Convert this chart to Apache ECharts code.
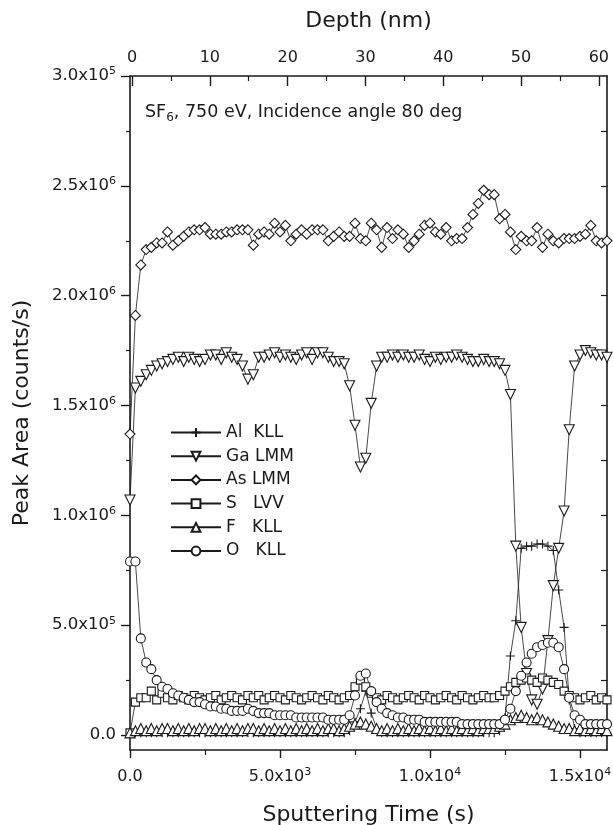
<!DOCTYPE html>
<html>
<head>
<meta charset="utf-8">
<title>SF6 depth profile</title>
<script src="https://cdn.jsdelivr.net/npm/echarts@6/dist/echarts.min.js"></script>
<style>
  html, body { margin: 0; padding: 0; background: #fff; }
  #main { width: 613px; height: 825px; }
</style>
</head>
<body>
<div id="main"></div>
<script type="text/javascript">
// sputtering time (s)
var timeS = [0,180,360,540,710,890,1070,1250,1430,1610,
  1790,1960,2140,2320,2500,2680,2860,3040,3210,3390,
  3570,3750,3930,4110,4290,4470,4640,4820,5000,5180,
  5360,5540,5720,5890,6070,6250,6430,6610,6790,6970,
  7140,7320,7500,7680,7860,8040,8220,8390,8570,8750,
  8930,9110,9290,9470,9640,9820,10000,10180,10360,10540,
  10720,10890,11070,11250,11430,11610,11790,11970,12140,12320,
  12500,12680,12860,13040,13220,13390,13570,13750,13930,14110,
  14290,14470,14640,14820,15000,15180,15360,15540,15720,15900];

// peak areas, in 10^6 counts/s
var alKLL = [0.01,0.01,0.01,0.01,0.01,0.01,0.01,0.01,0.01,0.01,
  0.01,0.01,0.01,0.01,0.01,0.01,0.01,0.01,0.01,0.01,
  0.01,0.01,0.01,0.01,0.01,0.01,0.01,0.01,0.01,0.01,
  0.01,0.01,0.01,0.01,0.01,0.01,0.01,0.01,0.01,0.01,
  0.01,0.02,0.06,0.12,0.20,0.10,0.03,0.01,0.01,0.01,
  0.01,0.01,0.01,0.01,0.01,0.01,0.01,0.01,0.01,0.01,
  0.01,0.01,0.01,0.01,0.01,0.01,0.01,0.01,0.01,0.02,
  0.08,0.36,0.52,0.85,0.86,0.86,0.87,0.87,0.86,0.84,
  0.66,0.49,0.16,0.03,0.01,0.01,0.01,0.01,0.01,0.01];
var gaLMM = [1.07,1.58,1.61,1.64,1.66,1.68,1.69,1.70,1.71,1.72,
  1.70,1.72,1.71,1.70,1.71,1.73,1.73,1.71,1.74,1.72,
  1.71,1.68,1.62,1.64,1.72,1.72,1.73,1.74,1.72,1.73,
  1.72,1.71,1.73,1.74,1.71,1.74,1.74,1.72,1.70,1.70,
  1.69,1.59,1.41,1.22,1.26,1.51,1.68,1.72,1.72,1.73,
  1.72,1.73,1.72,1.72,1.73,1.71,1.70,1.72,1.71,1.72,
  1.72,1.73,1.72,1.71,1.70,1.70,1.71,1.70,1.70,1.69,
  1.66,1.55,0.86,0.49,0.28,0.16,0.14,0.21,0.43,0.68,
  0.85,1.02,1.39,1.68,1.73,1.75,1.74,1.73,1.73,1.72];
var asLMM = [1.37,1.91,2.14,2.21,2.22,2.24,2.24,2.29,2.23,2.25,
  2.27,2.29,2.30,2.30,2.31,2.28,2.28,2.28,2.29,2.29,
  2.30,2.30,2.30,2.23,2.28,2.29,2.28,2.33,2.29,2.32,
  2.25,2.28,2.30,2.28,2.30,2.30,2.30,2.25,2.27,2.29,
  2.27,2.27,2.33,2.26,2.25,2.33,2.30,2.22,2.31,2.26,
  2.30,2.28,2.22,2.25,2.28,2.32,2.33,2.29,2.28,2.31,
  2.25,2.26,2.26,2.31,2.37,2.42,2.48,2.46,2.46,2.35,
  2.37,2.29,2.21,2.27,2.25,2.25,2.31,2.22,2.28,2.25,
  2.24,2.26,2.26,2.26,2.27,2.28,2.32,2.25,2.24,2.25];
var sLVV = [0.01,0.15,0.17,0.17,0.20,0.16,0.19,0.17,0.16,0.18,
  0.17,0.16,0.18,0.17,0.16,0.17,0.18,0.16,0.17,0.18,
  0.17,0.16,0.18,0.17,0.18,0.16,0.17,0.18,0.17,0.16,
  0.18,0.17,0.16,0.17,0.18,0.17,0.16,0.18,0.17,0.16,
  0.17,0.18,0.22,0.25,0.22,0.19,0.17,0.16,0.18,0.17,
  0.16,0.17,0.18,0.17,0.16,0.18,0.17,0.16,0.17,0.18,
  0.17,0.16,0.18,0.17,0.16,0.17,0.18,0.17,0.17,0.18,
  0.20,0.22,0.24,0.25,0.26,0.25,0.24,0.26,0.25,0.24,
  0.23,0.20,0.18,0.17,0.16,0.17,0.18,0.16,0.17,0.16];
var fKLL = [0.01,0.02,0.03,0.02,0.03,0.02,0.03,0.03,0.02,0.03,
  0.02,0.03,0.02,0.03,0.03,0.02,0.03,0.02,0.03,0.02,
  0.03,0.02,0.03,0.03,0.02,0.03,0.02,0.03,0.02,0.03,
  0.02,0.03,0.02,0.03,0.02,0.03,0.02,0.03,0.03,0.02,
  0.03,0.04,0.05,0.06,0.05,0.04,0.03,0.02,0.03,0.02,
  0.03,0.02,0.03,0.02,0.03,0.02,0.03,0.02,0.03,0.02,
  0.03,0.02,0.03,0.02,0.03,0.02,0.03,0.03,0.03,0.04,
  0.05,0.07,0.08,0.09,0.08,0.07,0.08,0.07,0.06,0.05,
  0.04,0.03,0.03,0.02,0.03,0.02,0.03,0.02,0.03,0.02];
var oKLL = [0.79,0.79,0.44,0.33,0.30,0.25,0.22,0.21,0.19,0.18,
  0.17,0.16,0.15,0.15,0.14,0.13,0.13,0.12,0.12,0.11,
  0.11,0.11,0.12,0.11,0.10,0.10,0.10,0.09,0.09,0.09,
  0.09,0.08,0.08,0.08,0.08,0.08,0.08,0.07,0.07,0.07,
  0.07,0.09,0.18,0.27,0.28,0.20,0.15,0.12,0.10,0.09,
  0.08,0.08,0.07,0.07,0.07,0.06,0.06,0.06,0.06,0.06,
  0.06,0.06,0.05,0.05,0.05,0.05,0.05,0.05,0.05,0.05,
  0.07,0.12,0.20,0.27,0.33,0.37,0.40,0.41,0.42,0.42,
  0.40,0.30,0.17,0.09,0.07,0.05,0.05,0.05,0.05,0.05];

var seriesNames = ['Al  KLL', 'Ga LMM', 'As LMM', 'S   LVV', 'F   KLL', 'O   KLL'];

// axis ticks
var yTickVals = [0, 0.5, 1.0, 1.5, 2.0, 2.5, 3.0];
var yTickLabels = ['0.0', '5.0x10{s|5}', '1.0x10{s|6}', '1.5x10{s|6}', '2.0x10{s|6}', '2.5x10{s|6}', '3.0x10{s|5}'];
var yMinorVals = [0.25, 0.75, 1.25, 1.75, 2.25, 2.75];
var yRightVals = [0.25, 0.5, 0.75, 1.0, 1.25, 1.5, 1.75, 2.0, 2.25, 2.5, 2.75];
var xTickVals = [0, 5000, 10000, 15000];
var xTickLabels = ['0.0', '5.0x10{s|3}', '1.0x10{s|4}', '1.5x10{s|4}'];
var xMinorVals = [2500, 7500, 12500];
var depthTickVals = [0, 10, 20, 30, 40, 50, 60];
var depthMinorVals = [5, 15, 25, 35, 45, 55];

var FONT = 'DejaVu Sans';
var INK = '#1a1a1a';

function pairs(ys) {
  var out = [];
  for (var i = 0; i < timeS.length; i++) out.push([timeS[i], ys[i]]);
  return out;
}

var symbols = [
  'path://M0,5L10,5M5,0L5,10',
  'path://M0,0L10,0L5,9Z',
  'diamond',
  'rect',
  'triangle',
  'circle'
];
var sizes = [9, 10, 10, 8, 10, 9];
var dataSets = [alKLL, gaLMM, asLMM, sLVV, fKLL, oKLL];

var seriesList = [];
for (var k = 0; k < dataSets.length; k++) {
  seriesList.push({
    name: seriesNames[k],
    type: 'line',
    xAxisIndex: 0,
    yAxisIndex: 0,
    data: pairs(dataSets[k]),
    symbol: symbols[k],
    symbolSize: sizes[k],
    showAllSymbol: true,
    clip: false,
    animation: false,
    lineStyle: { color: INK, width: 0.8 },
    itemStyle: { color: '#fff', borderColor: INK, borderWidth: 1.1 },
    emphasis: { disabled: true }
  });
}

var rich = { s: { fontFamily: FONT, fontSize: 11, lineHeight: 10, verticalAlign: 'top', color: INK } };
var frame = { show: true, onZero: false, lineStyle: { color: INK, width: 1.6 } };
var noLine = { show: false, onZero: false };
var titleFont = { fontFamily: FONT, fontSize: 22, color: INK };

var myChart = echarts.init(document.getElementById('main'), null, { renderer: 'canvas' });

var option = {
  backgroundColor: '#fff',
  animation: false,
  grid: { left: 130, right: 6, top: 76, bottom: 75, containLabel: false, outerBoundsMode: 'none' },
  legend: {
    orient: 'vertical',
    left: 170,
    top: 424,
    padding: 0,
    itemWidth: 50,
    itemHeight: 11,
    itemGap: 6.7,
    data: seriesNames,
    textStyle: { fontFamily: FONT, fontSize: 17, lineHeight: 17, color: INK }
  },
  xAxis: [
    {
      type: 'value', position: 'bottom', min: 0, max: 15900,
      name: 'Sputtering Time (s)', nameLocation: 'middle', nameGap: 54,
      nameTextStyle: titleFont,
      axisLine: frame,
      axisTick: { show: true, inside: false, length: 8, customValues: xTickVals, lineStyle: { color: INK, width: 1.4 } },
      axisLabel: {
        show: true, margin: 17, customValues: xTickVals,
        fontFamily: FONT, fontSize: 16, lineHeight: 20, color: INK, rich: rich,
        formatter: function (v) { return xTickLabels[xTickVals.indexOf(v)]; }
      },
      splitLine: { show: false }
    },
    {
      type: 'value', position: 'bottom', min: 0, max: 15900,
      axisLine: noLine,
      axisTick: { show: true, inside: false, length: 5, customValues: xMinorVals, lineStyle: { color: INK, width: 1.2 } },
      axisLabel: { show: false },
      splitLine: { show: false }
    },
    {
      type: 'value', position: 'top', min: -0.26, max: 61.05,
      name: 'Depth (nm)', nameLocation: 'middle', nameGap: 44,
      nameTextStyle: titleFont,
      axisLine: frame,
      axisTick: { show: true, inside: true, length: 10, customValues: depthTickVals, lineStyle: { color: INK, width: 1.4 } },
      axisLabel: {
        show: true, margin: 10, customValues: depthTickVals,
        fontFamily: FONT, fontSize: 16, color: INK
      },
      splitLine: { show: false }
    },
    {
      type: 'value', position: 'top', min: -0.26, max: 61.05,
      axisLine: noLine,
      axisTick: { show: true, inside: true, length: 5, customValues: depthMinorVals, lineStyle: { color: INK, width: 1.2 } },
      axisLabel: { show: false },
      splitLine: { show: false }
    }
  ],
  yAxis: [
    {
      type: 'value', position: 'left', min: -0.068, max: 3.0,
      name: 'Peak Area (counts/s)', nameLocation: 'middle', nameGap: 97,
      nameTextStyle: titleFont,
      axisLine: frame,
      axisTick: { show: true, inside: false, length: 9, customValues: yTickVals, lineStyle: { color: INK, width: 1.4 } },
      axisLabel: {
        show: true, margin: 14, customValues: yTickVals,
        fontFamily: FONT, fontSize: 16.5, lineHeight: 20, color: INK, rich: rich,
        formatter: function (v) { return yTickLabels[yTickVals.indexOf(v)]; }
      },
      splitLine: { show: false }
    },
    {
      type: 'value', position: 'left', min: -0.068, max: 3.0,
      axisLine: noLine,
      axisTick: { show: true, inside: false, length: 4, customValues: yMinorVals, lineStyle: { color: INK, width: 1.2 } },
      axisLabel: { show: false },
      splitLine: { show: false }
    },
    {
      type: 'value', position: 'right', min: -0.068, max: 3.0,
      axisLine: frame,
      axisTick: { show: true, inside: true, length: 6, customValues: yRightVals, lineStyle: { color: INK, width: 1.2 } },
      axisLabel: { show: false },
      splitLine: { show: false }
    }
  ],
  graphic: [
    {
      type: 'text', left: 145, top: 100,
      style: {
        text: 'SF{sub|6}, 750 eV, Incidence angle 80 deg',
        fontFamily: FONT, fontSize: 17.5, lineHeight: 24, fill: INK,
        rich: { sub: { fontFamily: FONT, fontSize: 12, lineHeight: 12, verticalAlign: 'bottom', fill: INK } }
      }
    }
  ],
  series: seriesList
};

myChart.setOption(option);
</script>
</body>
</html>
